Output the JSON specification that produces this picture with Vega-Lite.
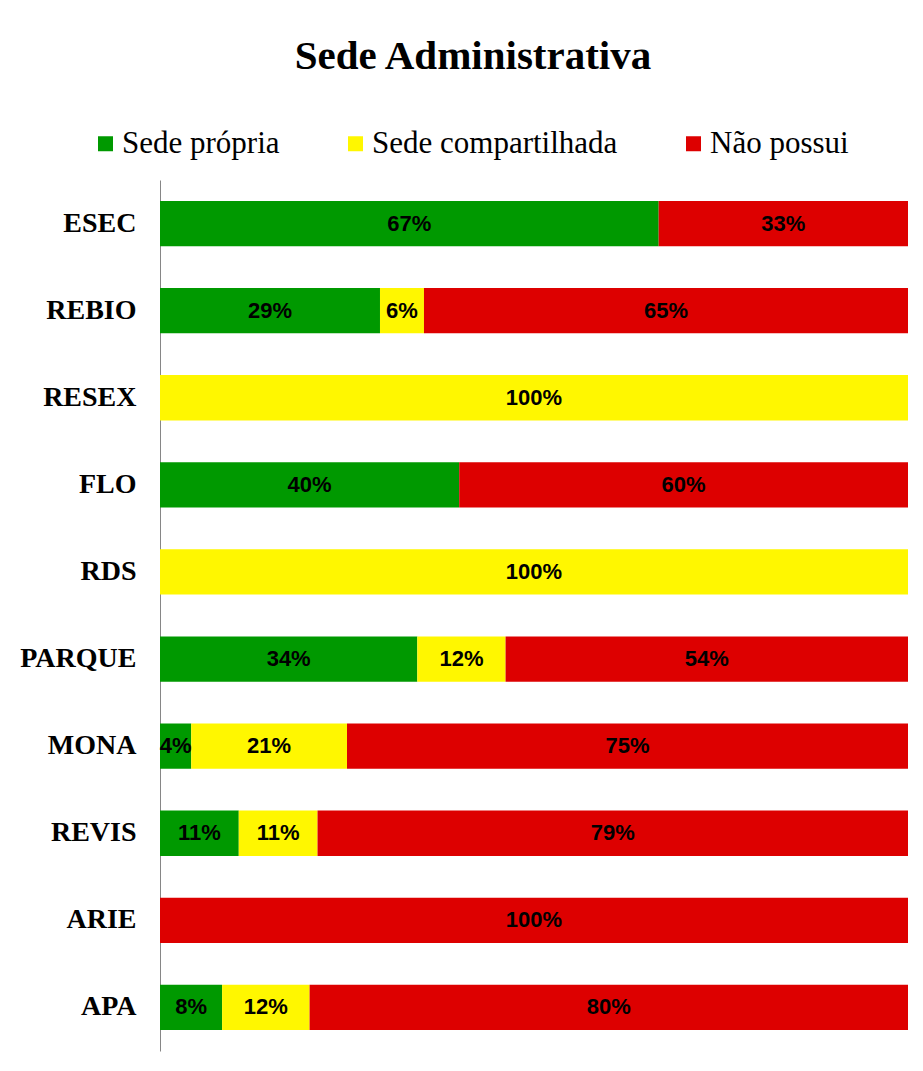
{
  "$schema": "https://vega.github.io/schema/vega-lite/v6.json",
  "width": 748,
  "height": 871,
  "autosize": {"type": "none"},
  "padding": {"left": 160, "top": 180, "right": 15, "bottom": 20},
  "background": "white",
  "title": {
    "text": "Sede Administrativa",
    "font": "Liberation Serif",
    "fontSize": 41,
    "fontWeight": "bold",
    "color": "black",
    "anchor": "middle",
    "frame": "group",
    "dx": -61,
    "offset": 50
  },
  "data": {
    "values": [
      {"unidade": "ESEC", "tipo": "Sede própria", "ordem": 1, "valor": 0.6667},
      {"unidade": "ESEC", "tipo": "Não possui", "ordem": 3, "valor": 0.3333},
      {"unidade": "REBIO", "tipo": "Sede própria", "ordem": 1, "valor": 0.2941},
      {"unidade": "REBIO", "tipo": "Sede compartilhada", "ordem": 2, "valor": 0.0588},
      {"unidade": "REBIO", "tipo": "Não possui", "ordem": 3, "valor": 0.6471},
      {"unidade": "RESEX", "tipo": "Sede compartilhada", "ordem": 2, "valor": 1.0},
      {"unidade": "FLO", "tipo": "Sede própria", "ordem": 1, "valor": 0.4},
      {"unidade": "FLO", "tipo": "Não possui", "ordem": 3, "valor": 0.6},
      {"unidade": "RDS", "tipo": "Sede compartilhada", "ordem": 2, "valor": 1.0},
      {"unidade": "PARQUE", "tipo": "Sede própria", "ordem": 1, "valor": 0.344},
      {"unidade": "PARQUE", "tipo": "Sede compartilhada", "ordem": 2, "valor": 0.118},
      {"unidade": "PARQUE", "tipo": "Não possui", "ordem": 3, "valor": 0.538},
      {"unidade": "MONA", "tipo": "Sede própria", "ordem": 1, "valor": 0.0417},
      {"unidade": "MONA", "tipo": "Sede compartilhada", "ordem": 2, "valor": 0.2083},
      {"unidade": "MONA", "tipo": "Não possui", "ordem": 3, "valor": 0.75},
      {"unidade": "REVIS", "tipo": "Sede própria", "ordem": 1, "valor": 0.1053},
      {"unidade": "REVIS", "tipo": "Sede compartilhada", "ordem": 2, "valor": 0.1053},
      {"unidade": "REVIS", "tipo": "Não possui", "ordem": 3, "valor": 0.7894},
      {"unidade": "ARIE", "tipo": "Não possui", "ordem": 3, "valor": 1.0},
      {"unidade": "APA", "tipo": "Sede própria", "ordem": 1, "valor": 0.083},
      {"unidade": "APA", "tipo": "Sede compartilhada", "ordem": 2, "valor": 0.117},
      {"unidade": "APA", "tipo": "Não possui", "ordem": 3, "valor": 0.8}
    ]
  },
  "transform": [
    {"stack": "valor", "groupby": ["unidade"], "sort": [{"field": "ordem", "order": "ascending"}], "offset": "normalize", "as": ["x0", "x1"]},
    {"calculate": "(datum.x0 + datum.x1) / 2", "as": "xm"}
  ],
  "encoding": {
    "y": {
      "field": "unidade",
      "type": "nominal",
      "sort": ["ESEC", "REBIO", "RESEX", "FLO", "RDS", "PARQUE", "MONA", "REVIS", "ARIE", "APA"],
      "scale": {"paddingInner": 0.48, "paddingOuter": 0.24},
      "axis": {
        "title": null,
        "ticks": false,
        "domain": true,
        "domainColor": "#868686",
        "domainWidth": 1,
        "labelFont": "Liberation Serif",
        "labelFontSize": 28,
        "labelFontWeight": "bold",
        "labelColor": "black",
        "labelPadding": 24
      }
    }
  },
  "layer": [
    {
      "mark": {"type": "bar", "stroke": null},
      "encoding": {
        "x": {
          "field": "x0",
          "type": "quantitative",
          "scale": {"domain": [0, 1], "nice": false, "zero": true},
          "axis": null
        },
        "x2": {"field": "x1"},
        "color": {
          "field": "tipo",
          "type": "nominal",
          "scale": {
            "domain": ["Sede própria", "Sede compartilhada", "Não possui"],
            "range": ["#009900", "#FFF700", "#DD0000"]
          },
          "legend": {
            "title": null,
            "orient": "none",
            "direction": "horizontal",
            "legendX": -70,
            "legendY": -52,
            "symbolType": "square",
            "symbolSize": 225,
            "symbolStrokeWidth": 0,
            "labelFont": "Liberation Serif",
            "labelFontSize": 31,
            "labelColor": "black",
            "labelOffset": 1,
            "columnPadding": 60,
            "labelLimit": 400
          }
        }
      }
    },
    {
      "mark": {
        "type": "text",
        "font": "Liberation Sans",
        "fontSize": 22,
        "fontWeight": "bold",
        "color": "black",
        "align": "center",
        "baseline": "middle"
      },
      "encoding": {
        "x": {
          "field": "xm",
          "type": "quantitative",
          "scale": {"domain": [0, 1], "nice": false, "zero": true},
          "axis": null
        },
        "text": {"field": "valor", "type": "quantitative", "format": ".0%"}
      }
    }
  ],
  "config": {
    "view": {"stroke": null},
    "axis": {"grid": false}
  }
}
